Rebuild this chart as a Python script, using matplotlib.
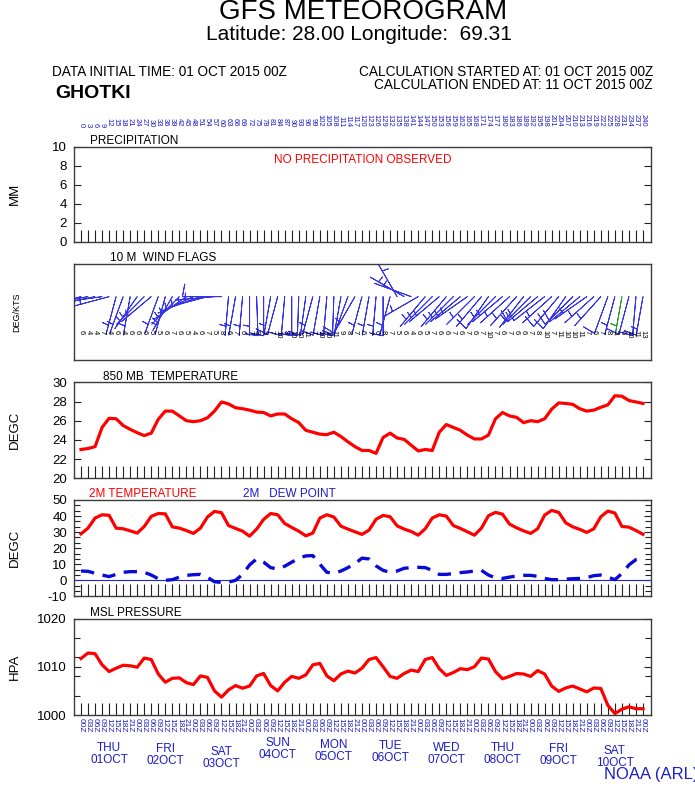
import numpy as np
import matplotlib
matplotlib.use('Agg')
import matplotlib.pyplot as plt
import matplotlib.transforms as mtrans

plt.rcParams['font.family'] = ['Liberation Sans', 'DejaVu Sans']

# ---------------- data ----------------
fhours = list(range(0, 243, 3))
utc_labels = ['00Z', '03Z', '06Z', '09Z', '12Z', '15Z', '18Z', '21Z'] * 10 + ['00Z']
day_names = ['THU', 'FRI', 'SAT', 'SUN', 'MON', 'TUE', 'WED', 'THU', 'FRI', 'SAT']
day_dates = ['01OCT', '02OCT', '03OCT', '04OCT', '05OCT', '06OCT', '07OCT', '08OCT', '09OCT', '10OCT']

precip = [0.0] * 81

t850 = [23.0, 23.1, 23.3, 25.3, 26.25, 26.2, 25.5, 25.1, 24.75, 24.45,
        24.7, 26.15, 27.0, 27.0, 26.5, 26.0, 25.9, 26.0, 26.3, 27.0,
        27.95, 27.75, 27.35, 27.25, 27.1, 26.9, 26.85, 26.5, 26.7, 26.7,
        26.2, 25.8, 25.0, 24.8, 24.6, 24.55, 24.8, 24.35, 23.8, 23.3,
        22.9, 22.9, 22.6, 24.25, 24.7, 24.2, 24.05, 23.45, 22.85, 23.0,
        22.9, 24.8, 25.6, 25.3, 25.0, 24.5, 24.1, 24.1, 24.5, 26.2,
        26.85, 26.5, 26.35, 25.8, 26.0, 25.9, 26.2, 27.2, 27.85, 27.8,
        27.7, 27.25, 27.0, 27.1, 27.4, 27.65, 28.6, 28.55, 28.1, 27.95,
        27.8]

t2m = [28.9, 32.5, 38.75, 40.8, 40.5, 32.5, 32.1, 30.8, 29.4, 33.5,
       39.8, 41.6, 41.4, 33.3, 32.5, 31.0, 29.2, 32.5, 39.4, 42.9,
       42.1, 34.1, 32.3, 30.6, 27.5, 31.9, 37.9, 41.6, 40.8, 35.4,
       32.9, 30.6, 27.7, 29.4, 38.75, 40.8, 39.4, 33.7, 31.9, 30.2,
       28.6, 31.25, 38.0, 40.4, 39.6, 33.9, 31.9, 30.4, 28.1, 32.1,
       38.75, 40.8, 40.0, 34.1, 32.3, 30.2, 28.1, 32.5, 40.2, 42.3,
       41.2, 35.0, 32.7, 30.8, 29.2, 32.1, 40.6, 43.5, 42.3, 35.8,
       33.3, 31.7, 29.8, 32.1, 39.6, 43.1, 41.9, 33.5, 33.1, 31.0,
       28.7]

td2m = [5.8, 5.6, 4.4, 3.3, 2.3, 3.7, 5.0, 5.4, 5.4, 5.0,
        3.3, 1.0, 0.0, 0.4, 2.0, 3.1, 3.5, 3.7, 1.9, -0.9,
        -1.3, -1.1, 0.0, 3.7, 9.6, 13.3, 11.3, 7.9, 7.1, 8.8,
        11.3, 13.8, 15.2, 15.4, 10.0, 5.0, 4.4, 5.8, 7.9, 10.4,
        13.8, 13.3, 9.0, 6.2, 5.0, 5.8, 7.5, 7.9, 8.1, 7.9,
        6.2, 3.7, 3.7, 4.2, 4.8, 5.2, 5.8, 6.2, 3.3, 1.5,
        1.2, 2.0, 2.7, 3.1, 3.1, 2.5, 1.2, 0.4, 0.4, 0.8,
        1.0, 1.2, 1.7, 2.9, 3.3, 2.0, 0.4, 4.2, 9.6, 12.9,
        13.8]

mslp = [1011.7, 1012.85, 1012.7, 1010.4, 1009.0, 1009.7, 1010.3, 1010.2, 1009.9, 1011.8,
        1011.5, 1008.5, 1006.8, 1007.6, 1007.7, 1006.7, 1006.3, 1008.1, 1007.8, 1005.0,
        1003.7, 1005.2, 1006.1, 1005.55, 1006.0, 1008.1, 1008.6, 1006.1, 1005.0, 1006.8,
        1008.0, 1007.6, 1008.3, 1010.4, 1010.7, 1008.1, 1007.1, 1008.5, 1009.1, 1008.7,
        1009.7, 1011.5, 1011.9, 1010.0, 1008.0, 1007.6, 1008.6, 1009.3, 1009.0, 1011.5,
        1011.9, 1009.6, 1008.2, 1008.8, 1009.6, 1009.4, 1010.0, 1011.8, 1011.6, 1009.0,
        1007.5, 1008.0, 1008.6, 1008.5, 1008.0, 1009.2, 1008.5, 1006.0, 1004.9, 1005.6,
        1006.0, 1005.4, 1004.8, 1005.6, 1005.5, 1002.0, 1000.3, 1001.2, 1001.7, 1001.3,
        1001.3]

wdir = [255, 260, 258, 262, 255,
        195, 200, 190, 215, 225, 230,
        200, 195, 210,
        225, 235, 245, 250, 255, 265,
        270,
        185, 190, 185, 180, 178, 180, 190, 195, 185, 180, 182, 188, 195, 190, 185,
        182, 190, 200, 210, 195, 190, 185, 180, 195,
        330, 300, 290, 240,
        220, 225, 230, 220, 225, 230, 235, 225, 220, 215, 225, 230, 228, 222, 218,
        225, 230, 232, 228, 220, 215, 225, 230, 235, 228, 222,
        200, 195, 190, 195, 185, 190]

wspd = [6, 4, 4, 7, 4,
        6, 4, 6, 6, 6, 5,
        5, 6, 7, 6, 5, 4, 6, 7, 5,
        8, 6, 7, 6, 7, 8, 9, 7,
        10, 8, 10, 10, 11, 7, 10, 10, 11, 9,
        8, 7, 6, 7, 6, 8, 7,
        5, 6, 4, 6, 5, 7, 6, 6, 7, 6, 7, 6, 7,
        10,
        7, 6, 7, 6, 6, 7, 8,
        10, 7, 11, 10, 10, 11,
        7, 6, 7, 8, 5, 6,
        10, 11, 13]

# ---------------- layout ----------------
W, H = 695, 787
fig = plt.figure(figsize=(W / 100, H / 100), dpi=100)


def fx(px):
    return px / W


def fy(py):
    return 1 - py / H


L, R = 74, 651
x = np.arange(len(fhours))
XLIM = (-0.996, 81.14)
BLUE = '#1c1cc8'
RED = '#ff0000'
FRAME = '#3c3c3c'


def panel(top, bottom):
    return fig.add_axes([fx(L), fy(bottom), (R - L) / W, (bottom - top) / H])


def style(ax, ylim, yticks, ylabels, minor=None, xt=True):
    ax.set_xlim(*XLIM)
    ax.set_ylim(*ylim)
    for s in ax.spines.values():
        s.set_color(FRAME)
        s.set_linewidth(1.0)
    if xt:
        ax.set_xticks(x)
        ax.set_xticklabels([])
        ax.tick_params(axis='x', direction='in', length=9, width=0.8,
                       color='#222222', bottom=True, top=False)
    else:
        ax.set_xticks([])
    if yticks is not None:
        ax.set_yticks(yticks)
        ax.set_yticklabels(ylabels, fontsize=9.5)
        ax.tick_params(axis='y', direction='in', length=5, width=0.8,
                       color='#222222', left=True, right=True, pad=5)
        if minor is not None:
            ax.set_yticks(minor, minor=True)
            ax.tick_params(axis='y', which='minor', direction='in', length=4,
                           width=0.8, color='#222222', left=True, right=True)
    else:
        ax.set_yticks([])


# Header
fig.text(fx(363), fy(12), 'GFS METEOROGRAM', ha='center', va='center', fontsize=20)
fig.text(fx(359), fy(34), 'Latitude: 28.00 Longitude:  69.31', ha='center', va='center', fontsize=15)
fig.text(fx(52), fy(72), 'DATA INITIAL TIME: 01 OCT 2015 00Z', ha='left', va='center', fontsize=9.8)
fig.text(fx(55), fy(93), 'GHOTKI', ha='left', va='center', fontsize=14, fontweight='bold')
fig.text(fx(653), fy(72), 'CALCULATION STARTED AT: 01 OCT 2015 00Z', ha='right', va='center', fontsize=9.8)
fig.text(fx(653), fy(85), 'CALCULATION ENDED AT: 11 OCT 2015 00Z', ha='right', va='center', fontsize=9.8)

# Precipitation
ax_p = panel(146.5, 242)
ax_p.bar(x, precip, width=0.8, color='#00aa00')
style(ax_p, (0, 10), [0, 2, 4, 6, 8, 10], ['0', '2', '4', '6', '8', '10'])
ax_p.text(0.5, 0.86, 'NO PRECIPITATION OBSERVED', transform=ax_p.transAxes,
          ha='center', va='center', color=RED, fontsize=8.5)
fig.text(fx(90), fy(141), 'PRECIPITATION', ha='left', va='center', fontsize=8.5)
fig.text(fx(15), fy(194), 'MM', ha='center', va='center', rotation=90, fontsize=9.5)

# forecast hour labels on top
tr_top = mtrans.blended_transform_factory(ax_p.transData, fig.transFigure)
for i, h in enumerate(fhours):
    ax_p.text(i, fy(127), str(h), transform=tr_top, rotation=-90, ha='center',
              va='bottom', fontsize=5.5, color=BLUE)

# Wind flags
ax_w = panel(264, 360)
style(ax_w, (0, 1), None, None, xt=False)
wd = np.deg2rad(np.array(wdir, dtype=float))
ws = np.array(wspd, dtype=float)
u = -ws * np.sin(wd)
v = -ws * np.cos(wd)
bcol = ['#3434e6'] * len(x)
bcol[77] = '#2e9a2e'
ax_w.barbs(x, np.full(len(x), 0.66), u, v, length=7.5, barbcolor=bcol,
           flagcolor=bcol, linewidth=0.65, pivot='tip',
           sizes=dict(height=0.32, width=-0.12, spacing=0.16))
for i, s in enumerate(wspd):
    ax_w.text(i, 0.31, str(s), rotation=-90, ha='center', va='top', fontsize=5.5, color='black')
fig.text(fx(110), fy(258), '10 M  WIND FLAGS', ha='left', va='center', fontsize=8.5)
fig.text(fx(17), fy(312), 'DEG/KTS', ha='center', va='center', rotation=90, fontsize=6.5)

# 850 mb temperature
ax_t = panel(382.3, 478.3)
ax_t.plot(x, t850, color=RED, lw=2.3, solid_joinstyle='round')
style(ax_t, (20, 30), [20, 22, 24, 26, 28, 30], ['20', '22', '24', '26', '28', '30'])
fig.text(fx(103), fy(377), '850 MB  TEMPERATURE', ha='left', va='center', fontsize=8.5)
fig.text(fx(15), fy(430), 'DEGC', ha='center', va='center', rotation=90, fontsize=9.5)

# 2 m temperature & dew point
ax_2 = panel(500, 596.4)
ax_2.axhline(0, color='#2222dd', lw=0.8)
ax_2.plot(x, t2m, color=RED, lw=2.3, solid_joinstyle='round')
ax_2.plot(x, td2m, color='#0a0ad8', lw=2.4, linestyle=(0, (4.0, 2.6)))
style(ax_2, (-10, 50), [-10, 0, 10, 20, 30, 40, 50],
      ['-10', '0', '10', '20', '30', '40', '50'],
      minor=list(np.arange(-10, 50.01, 10 / 3)))
fig.text(fx(89), fy(494), '2M TEMPERATURE', ha='left', va='center', fontsize=8.5, color=RED)
fig.text(fx(243), fy(494), '2M   DEW POINT', ha='left', va='center', fontsize=8.5, color=BLUE)
fig.text(fx(15), fy(548), 'DEGC', ha='center', va='center', rotation=90, fontsize=9.5)

# MSL pressure
ax_m = panel(618.5, 715)
ax_m.plot(x, mslp, color=RED, lw=2.3, solid_joinstyle='round')
style(ax_m, (1000, 1020), [1000, 1010, 1020], ['1000', '1010', '1020'],
      minor=[1004, 1008, 1012, 1016])
fig.text(fx(90), fy(613), 'MSL PRESSURE', ha='left', va='center', fontsize=8.5)
fig.text(fx(15), fy(667), 'HPA', ha='center', va='center', rotation=90, fontsize=9.5)

# bottom time labels
tr_bot = mtrans.blended_transform_factory(ax_m.transData, fig.transFigure)
for i, lab in enumerate(utc_labels):
    ax_m.text(i, fy(718), lab, transform=tr_bot, rotation=-90, ha='center',
              va='top', fontsize=6, color=BLUE)
day_y = [748, 749, 752, 743, 745, 746, 748, 748, 749, 751]
for d, (nm, dt) in enumerate(zip(day_names, day_dates)):
    xc = 4 + 8 * d
    ax_m.text(xc, fy(day_y[d]), nm, transform=tr_bot, ha='center', va='center',
              fontsize=8.5, color=BLUE)
    ax_m.text(xc, fy(day_y[d] + 12), dt, transform=tr_bot, ha='center', va='center',
              fontsize=8.5, color=BLUE)

fig.text(fx(604), fy(775), 'NOAA (ARL)', ha='left', va='center', fontsize=12, color=BLUE)

fig.savefig('out.png', dpi=100)
